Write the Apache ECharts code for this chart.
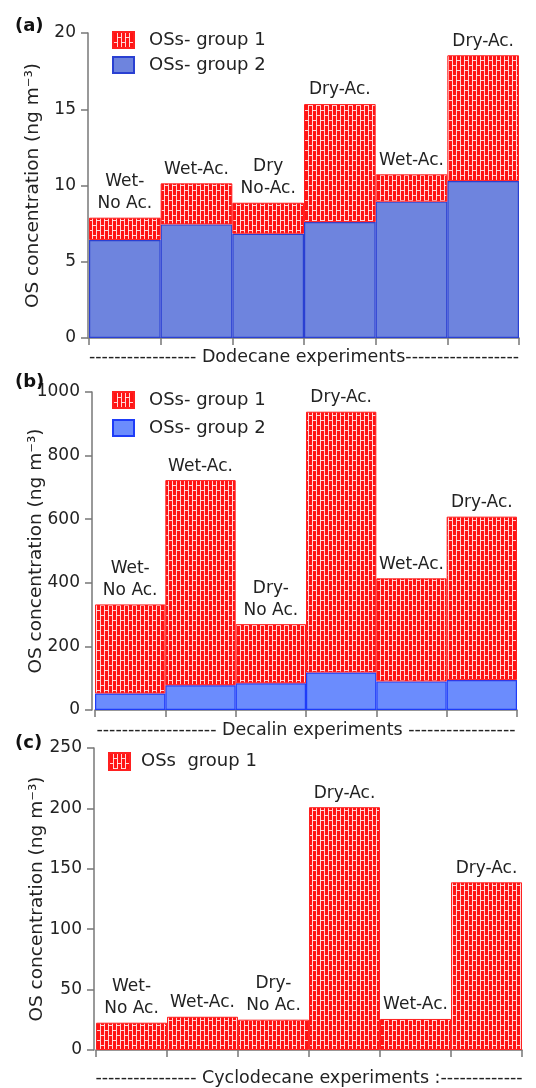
<!DOCTYPE html>
<html>
<head>
<meta charset="utf-8">
<script src="https://cdn.jsdelivr.net/npm/echarts@6/dist/echarts.min.js"></script>
<style>
html,body{margin:0;padding:0;background:#fff;}
#chart{width:536px;height:1088px;}
</style>
</head>
<body>
<div id="chart"></div>
<script>
// ---- data ----
const categories = ['E1', 'E2', 'E3', 'E4', 'E5', 'E6'];
const dodecaneLabels = ['Wet-\nNo Ac.', 'Wet-Ac.', 'Dry\nNo-Ac.', 'Dry-Ac.', 'Wet-Ac.', 'Dry-Ac.'];
const decalinLabels = ['Wet-\nNo Ac.', 'Wet-Ac.', 'Dry-\nNo Ac.', 'Dry-Ac.', 'Wet-Ac.', 'Dry-Ac.'];
const cyclodecaneLabels = ['Wet-\nNo Ac.', 'Wet-Ac.', 'Dry-\nNo Ac.', 'Dry-Ac.', 'Wet-Ac.', 'Dry-Ac.'];
const dodecaneGroup2 = [6.43, 7.45, 6.84, 7.6, 8.94, 10.3];
const dodecaneGroup1 = [1.46, 2.69, 2.03, 7.74, 1.79, 8.24];
const decalinGroup2 = [52, 78, 84, 118, 90, 94];
const decalinGroup1 = [280, 645, 186, 820, 324, 514];
const cyclodecaneGroup1 = [22.6, 27.5, 25.1, 201, 25.7, 138.8];
const ticksA = {min: 0, max: 20, interval: 5};
const ticksB = {min: 0, max: 1000, interval: 200};
const ticksC = {min: 0, max: 250, interval: 50};
const xNameA = '----------------- Dodecane experiments------------------';
const xNameB = '------------------- Decalin experiments -----------------';
const xNameC = '---------------- Cyclodecane experiments :-------------';
const yName = 'OS concentration (ng m\u207B\u00B3)';

// ---- styles ----
const FONT = 'DejaVu Sans';
const TXT = '#222';
function makePattern() {
  const c = document.createElement('canvas');
  c.width = 8; c.height = 10;
  const g = c.getContext('2d');
  g.fillStyle = '#ff1414';
  g.fillRect(0, 0, 8, 10);
  g.fillStyle = 'rgba(255,235,235,0.9)';
  g.fillRect(0, 0, 1, 10);
  g.fillRect(4, 0, 1, 10);
  g.fillRect(0, 0, 4, 1);
  g.fillRect(4, 5, 4, 1);
  return c;
}
const redPattern = {image: makePattern(), repeat: 'repeat'};

const chart = echarts.init(document.getElementById('chart'), null, {renderer: 'canvas'});

function xAxisCfg(gridIndex, name, gap) {
  return {
    type: 'category', gridIndex, data: categories,
    boundaryGap: true,
    name, nameLocation: 'middle', nameGap: gap,
    nameTextStyle: {fontFamily: FONT, fontSize: 17.5, color: TXT},
    axisLine: {lineStyle: {color: '#777', width: 1.5}},
    axisTick: {show: true, length: 7, lineStyle: {color: '#777', width: 1.5}},
    axisLabel: {show: false}
  };
}
function yAxisCfg(gridIndex, t, offset, gap) {
  return {
    type: 'value', gridIndex, min: t.min, max: t.max, interval: t.interval,
    offset,
    name: yName, nameLocation: 'middle', nameGap: gap, nameRotate: 90,
    nameMoveOverlap: false,
    nameTextStyle: {fontFamily: FONT, fontSize: 18.5, color: TXT},
    axisLine: {show: true, lineStyle: {color: '#777', width: 1.5}},
    axisTick: {show: true, length: 7, lineStyle: {color: '#777', width: 1.5}},
    axisLabel: {fontFamily: FONT, fontSize: 17, color: TXT, margin: 12, formatter: v => String(v)},
    splitLine: {show: false}
  };
}
function labelCfg(arr) {
  return {
    show: true, position: 'top', distance: 3,
    fontFamily: FONT, fontSize: 17, lineHeight: 22, color: TXT,
    formatter: p => arr[p.dataIndex]
  };
}
const legendText = {fontFamily: FONT, fontSize: 18, color: TXT, padding: [0, 0, 0, 10]};
const panelTitle = {fontFamily: FONT, fontSize: 18, fontWeight: 'bold', color: '#111'};

const option = {
  animation: false,
  backgroundColor: '#fff',
  title: [
    {text: '(a)', left: 10, top: 12, textStyle: panelTitle},
    {text: '(b)', left: 10, top: 368, textStyle: panelTitle},
    {text: '(c)', left: 10, top: 729, textStyle: panelTitle}
  ],
  legend: [
    {orient: 'vertical', left: 107, top: 26, itemWidth: 21, itemHeight: 16, itemGap: 7, icon: 'rect',
     data: ['OSs- group 1', 'OSs- group 2'], textStyle: legendText, selectedMode: false},
    {orient: 'vertical', left: 107, top: 386, itemWidth: 21, itemHeight: 16, itemGap: 10, icon: 'rect',
     data: ['OSs- group 1 ', 'OSs- group 2 '], textStyle: legendText, selectedMode: false},
    {orient: 'vertical', left: 103, top: 747, itemWidth: 21, itemHeight: 17, icon: 'rect',
     data: ['OSs  group 1'], textStyle: {fontFamily: FONT, fontSize: 18, color: TXT, padding: [0, 0, 0, 6]}, selectedMode: false}
  ],
  grid: [
    {left: 89, right: 17, top: 33, height: 305},
    {left: 95, right: 19, top: 392, height: 318},
    {left: 96, right: 14, top: 748, height: 305}
  ],
  xAxis: [xAxisCfg(0, xNameA, 10), xAxisCfg(1, xNameB, 11), xAxisCfg(2, xNameC, 19)],
  yAxis: [yAxisCfg(0, ticksA, 1, 45), yAxisCfg(1, ticksB, 3, 46), yAxisCfg(2, ticksC, 2, 47)],
  series: [
    {name: 'OSs- group 2', type: 'bar', stack: 'a', xAxisIndex: 0, yAxisIndex: 0, data: dodecaneGroup2,
     barWidth: '100%', itemStyle: {color: '#6e84de', borderColor: '#2a40d2', borderWidth: 1.2}},
    {name: 'OSs- group 1', type: 'bar', stack: 'a', xAxisIndex: 0, yAxisIndex: 0, data: dodecaneGroup1,
     barWidth: '100%', itemStyle: {color: redPattern, borderColor: '#ff2020', borderWidth: 1},
     label: labelCfg(dodecaneLabels)},
    {name: 'OSs- group 2 ', type: 'bar', stack: 'b', xAxisIndex: 1, yAxisIndex: 1, data: decalinGroup2,
     barWidth: '100%', itemStyle: {color: '#6b8cfd', borderColor: '#1e3cf8', borderWidth: 1.2}},
    {name: 'OSs- group 1 ', type: 'bar', stack: 'b', xAxisIndex: 1, yAxisIndex: 1, data: decalinGroup1,
     barWidth: '100%', itemStyle: {color: redPattern, borderColor: '#ff2020', borderWidth: 1},
     label: labelCfg(decalinLabels)},
    {name: 'OSs  group 1', type: 'bar', xAxisIndex: 2, yAxisIndex: 2, data: cyclodecaneGroup1,
     barWidth: '100%', itemStyle: {color: redPattern, borderColor: '#ff2020', borderWidth: 1},
     label: labelCfg(cyclodecaneLabels)}
  ]
};
chart.setOption(option);
</script>
</body>
</html>
